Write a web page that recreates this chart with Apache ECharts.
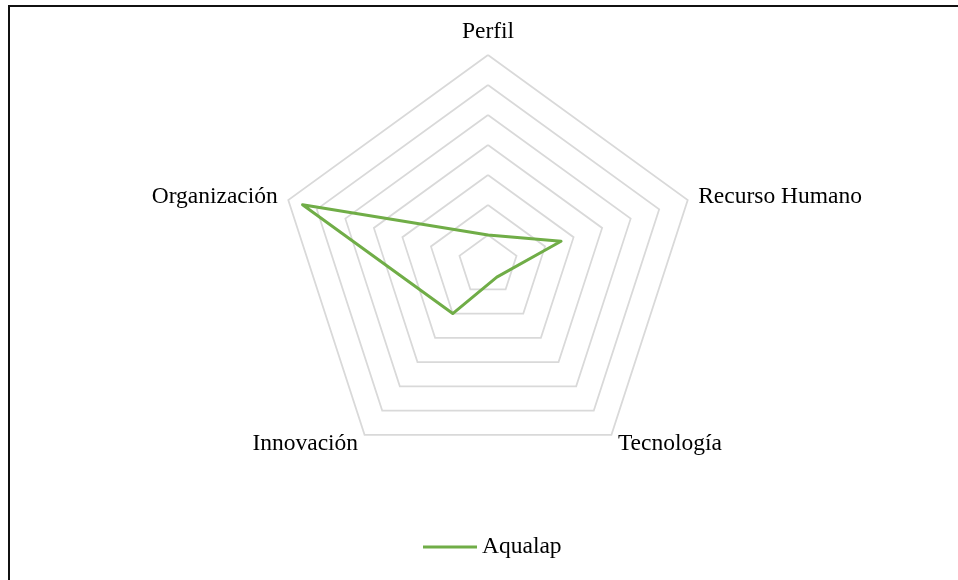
<!DOCTYPE html>
<html>
<head>
<meta charset="utf-8">
<script src="https://cdn.jsdelivr.net/npm/echarts@6/dist/echarts.min.js"></script>
<style>
    html, body { margin: 0; padding: 0; background: #fff; }
    #frame { position: absolute; left: 8px; top: 5px; width: 950px; height: 575px;
             border-left: 2px solid #111; border-top: 2px solid #111; box-sizing: border-box; }
    #radar { position: absolute; left: 0; top: 0; width: 958px; height: 580px; }
</style>
</head>
<body>
<div id="frame"></div>
<div id="radar"></div>
<script>
// 指標順序（ECharts 逆時針排列）
const indicators = ['Perfil', 'Organización', 'Innovación', 'Tecnología', 'Recurso Humano'];
const aqualap = [0.5, 3.25, 1.0, 0.25, 1.28];
const axisMax = 3.5;
const seriesName = 'Aqualap';

document.addEventListener("DOMContentLoaded", function () {
    radar()
});

function radar() {
    const chart = echarts.init(document.getElementById('radar'));

    chart.setOption({
        animation: false,
        legend: {
            data: [seriesName],
            left: 418,
            top: 530,
            icon: 'rect',
            itemWidth: 54,
            itemHeight: 3,
            itemGap: 5,
            textStyle: {
                fontFamily: 'Liberation Serif',
                fontSize: 23.5,
                color: '#000'
            }
        },
        radar: {
            center: [488, 265],
            radius: 210,
            shape: 'polygon',
            splitNumber: 7,
            nameGap: 11,
            axisName: {
                fontFamily: 'Liberation Serif',
                fontSize: 23.5,
                color: '#000'
            },
            axisLine: { show: false },
            splitArea: { show: false },
            splitLine: {
                lineStyle: { color: '#D9D9D9', width: 1.75 }
            },
            indicator: indicators.map(function (name) {
                return { name: name, min: 0, max: axisMax };
            })
        },
        series: [
            {
                name: seriesName,
                type: 'radar',
                symbol: 'none',
                itemStyle: { color: '#70AD47' },
                lineStyle: { color: '#70AD47', width: 3, join: 'round', cap: 'round' },
                data: [
                    { value: aqualap, name: seriesName }
                ]
            }
        ]
    });
}
</script>
</body>
</html>
